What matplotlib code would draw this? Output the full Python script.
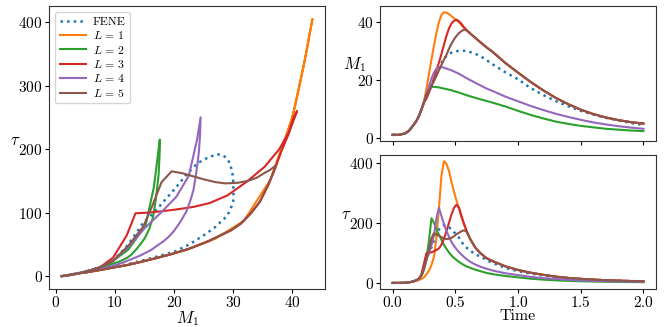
import matplotlib
matplotlib.use("Agg")
import matplotlib.pyplot as plt

plt.rcParams.update({
    "font.family": "serif",
    "font.serif": ["cmr10"],
    "mathtext.fontset": "cm",
    "axes.formatter.use_mathtext": True,
    "axes.unicode_minus": False,
})

time = [0, 0.05, 0.10, 0.13, 0.16, 0.19, 0.21, 0.23, 0.25, 0.27, 0.29, 0.31, 0.33, 0.35,
        0.37, 0.39, 0.41, 0.43, 0.45, 0.47, 0.49, 0.51, 0.53, 0.55, 0.57, 0.59, 0.62, 0.66,
        0.70, 0.75, 0.80, 0.90, 1.0, 1.1, 1.2, 1.3, 1.4, 1.5, 1.6, 1.7, 1.8, 1.9, 2.0]

labels = ["FENE", r"$L\,=\,1$", r"$L\,=\,2$", r"$L\,=\,3$", r"$L\,=\,4$", r"$L\,=\,5$"]

m1_fene = [1.0, 1.0, 1.5, 2.4, 4.0, 5.8, 7.5, 9.7, 12.3, 14.8, 16.5, 18.3, 20.2, 22.1, 24.0,
           25.8, 27.3, 28.3, 29.0, 29.4, 29.7, 29.9, 30.0, 30.05, 30.05, 30.0, 29.6, 29.0, 28.2,
           26.8, 25.3, 22.6, 20.2, 17.2, 14.8, 12.7, 10.9, 9.3, 8.0, 6.9, 6.0, 5.1, 4.4]
tau_fene = [0, 0.05, 0.6, 1.8, 4.5, 9, 14, 24, 50, 84, 99, 118, 138, 160, 178, 187, 192, 190,
            185, 178, 169, 160, 150, 136, 126, 117, 107, 95, 88, 76, 66, 50, 39, 31, 25, 20, 16,
            13, 10.7, 8.8, 7.3, 6, 5]

m1_l1 = [1.0, 1.0, 1.5, 2.4, 4.0, 5.8, 7.5, 9.7, 12.3, 17.0, 22.0, 27.0, 31.8, 36.3, 40.0, 42.5,
         43.4, 43.2, 42.7, 42.0, 41.3, 40.6, 39.9, 38.9, 38.0, 37.2, 36.0, 34.5, 33.0, 31.2, 29.6,
         25.8, 22.5, 19.3, 16.4, 13.8, 11.6, 9.7, 8.2, 7.0, 6.1, 5.4, 4.9]
tau_l1 = [0, 0, 0.5, 1.8, 4, 7, 9.5, 13.5, 18, 28.5, 41, 59, 87, 152, 250, 358, 405, 395, 372,
          335, 303, 273, 247, 217, 193, 173, 145, 117, 99, 82, 72, 55, 43, 34, 27, 21, 16.5,
          13.5, 11, 9, 7.5, 6.3, 5.4]

m1_l2 = [1.0, 1.0, 1.5, 2.4, 4.0, 5.8, 7.5, 9.7, 12.3, 15.2, 16.6, 17.6, 17.6, 17.5, 17.4, 17.2,
         17.0, 16.8, 16.6, 16.4, 16.1, 15.9, 15.6, 15.3, 15.0, 14.7, 14.3, 13.8, 13.3, 12.7, 12.1,
         10.8, 9.3, 7.9, 6.7, 5.6, 4.8, 4.1, 3.6, 3.1, 2.8, 2.5, 2.3]
tau_l2 = [0, 0.05, 0.6, 1.8, 4.5, 9, 14, 24, 42, 80, 140, 215, 200, 178, 160, 143, 126, 113, 101,
          91, 83, 76, 70, 64, 59, 55, 50, 44, 39, 33, 29, 23, 18.5, 14, 11, 8.5, 6.8, 5.5, 4.5,
          3.8, 3.2, 2.8, 2.4]

m1_l3 = [1.0, 1.0, 1.5, 2.4, 4.0, 5.8, 7.5, 9.7, 12.0, 13.5, 15.6, 17.8, 20.4, 23.3, 26.0, 29.0,
         32.2, 35.3, 37.8, 39.5, 40.4, 40.8, 40.2, 39.3, 38.1, 37.2, 36.0, 34.5, 33.0, 31.2, 29.6,
         25.8, 22.5, 19.3, 16.4, 13.8, 11.6, 9.7, 8.2, 7.0, 6.1, 5.4, 4.9]
tau_l3 = [0, 0.05, 0.6, 1.8, 4.5, 9, 14, 29, 64, 99, 100, 102, 105, 109, 115, 127, 148, 172, 200,
          228, 250, 260, 250, 222, 196, 173, 145, 117, 99, 82, 72, 55, 43, 34, 27, 21, 16.5, 13.5,
          11, 9, 7.5, 6.3, 5.4]

m1_l4 = [1.0, 1.0, 1.5, 2.4, 4.0, 5.8, 7.5, 9.7, 12.3, 15.0, 17.8, 20.4, 22.5, 23.9, 24.5, 24.4,
         24.2, 23.9, 23.6, 23.3, 22.9, 22.5, 22.1, 21.6, 21.1, 20.6, 19.9, 19.0, 18.1, 17.0, 16.1,
         14.2, 12.6, 11.0, 9.6, 8.3, 7.2, 6.2, 5.3, 4.6, 4.0, 3.5, 3.1]
tau_l4 = [0, 0.05, 0.6, 1.8, 4.5, 9, 14, 24, 46, 75, 100, 125, 158, 215, 250, 222, 195, 172, 153,
          136, 123, 112, 102, 94, 86, 79, 70, 61, 54, 47, 41, 32, 26, 20, 16, 13, 10.5, 8.5, 7,
          5.8, 4.8, 4, 3.4]

m1_l5 = [1.0, 1.0, 1.5, 2.4, 4.0, 5.8, 7.5, 9.7, 12.3, 14.8, 16.3, 17.9, 19.6, 21.4, 23.3, 25.2,
         27.0, 28.7, 30.8, 32.5, 34.0, 35.2, 36.2, 36.9, 37.3, 37.1, 36.0, 34.5, 33.0, 31.2, 29.6,
         25.8, 22.5, 19.3, 16.4, 13.8, 11.6, 9.7, 8.2, 7.0, 6.1, 5.4, 4.9]
tau_l5 = [0, 0.05, 0.6, 1.8, 4.5, 9, 14, 24, 48, 78, 110, 148, 165, 162, 157, 152, 148, 146, 147,
          150, 155, 162, 167, 172, 175, 170, 145, 117, 99, 82, 72, 55, 43, 34, 27, 21, 16.5, 13.5,
          11, 9, 7.5, 6.3, 5.4]

m1_all = [m1_fene, m1_l1, m1_l2, m1_l3, m1_l4, m1_l5]
tau_all = [tau_fene, tau_l1, tau_l2, tau_l3, tau_l4, tau_l5]
colors = ["C0", "C1", "C2", "C3", "C4", "C5"]

fig = plt.figure(figsize=(6.64, 3.27), dpi=100)
ax0 = fig.add_axes([0.0738, 0.1162, 0.4157, 0.8654])
ax1 = fig.add_axes([0.5723, 0.5688, 0.4157, 0.4128])
ax2 = fig.add_axes([0.5723, 0.1162, 0.4157, 0.4098], sharex=ax1)

for i, (lab, m, tau, c) in enumerate(zip(labels, m1_all, tau_all, colors)):
    if i == 0:
        kw = dict(color=c, linestyle=":", linewidth=1.8)
    else:
        kw = dict(color=c, linestyle="-", linewidth=1.5)
    ax0.plot(m, tau, label=lab, **kw)
    ax1.plot(time, m, **kw)
    ax2.plot(time, tau, **kw)

ax0.set_xticks([0, 10, 20, 30, 40])
ax0.set_yticks([0, 100, 200, 300, 400])
ax1.set_yticks([0, 20, 40])
ax2.set_yticks([0, 200, 400])
ax2.set_xticks([0.0, 0.5, 1.0, 1.5, 2.0])
plt.setp(ax1.get_xticklabels(), visible=False)

for ax in (ax0, ax1, ax2):
    ax.tick_params(labelsize=11, length=3, pad=1.5)
    for s in ax.spines.values():
        s.set_color("#333333")

ax0.set_xlabel(r"$M_1$", fontsize=12, labelpad=-1)
ax0.set_ylabel(r"$\tau$", fontsize=12, rotation=0, labelpad=2)
ax1.set_ylabel(r"$M_1$", fontsize=12, rotation=0, labelpad=2)
ax2.set_ylabel(r"$\tau$", fontsize=12, rotation=0, labelpad=2)
ax2.set_xlabel("Time", fontsize=11.5, labelpad=-1)

ax0.legend(loc="upper left", fontsize=8.5, labelspacing=0.2, borderpad=0.4,
           handlelength=2.2, handletextpad=0.6)

fig.savefig("out.png", dpi=100)
